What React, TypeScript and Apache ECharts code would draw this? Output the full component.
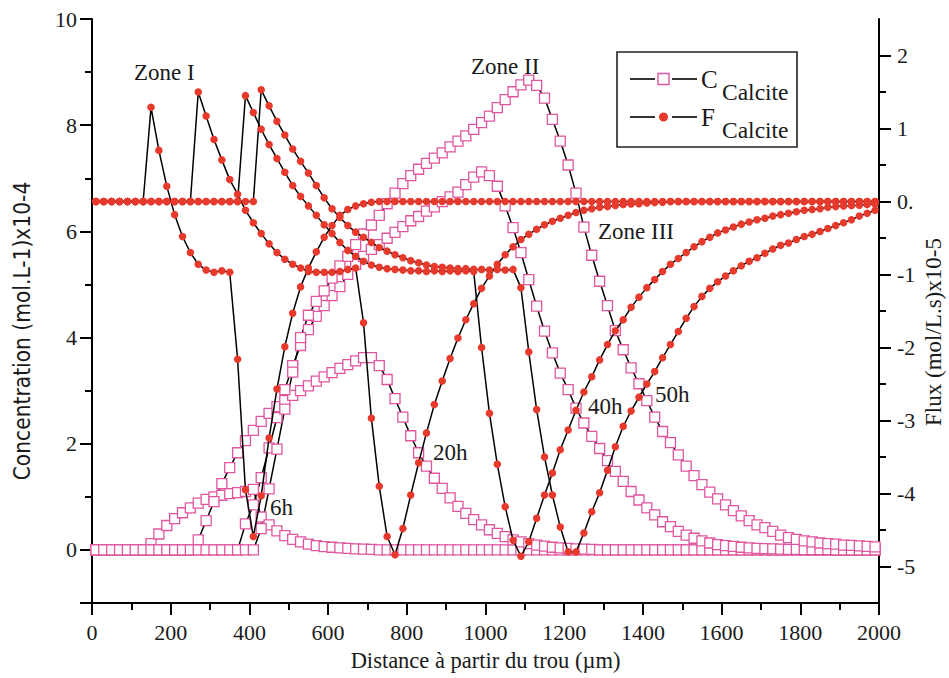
import React, { useEffect, useRef } from 'react';
import * as echarts from 'echarts';

// Sampling grid (µm)
const distance = [
  10, 30, 50, 70, 90, 110, 130, 150, 170, 190,
  210, 230, 250, 270, 290, 310, 330, 350, 370, 390,
  410, 430, 450, 470, 490, 510, 530, 550, 570, 590,
  610, 630, 650, 670, 690, 710, 730, 750, 770, 790,
  810, 830, 850, 870, 890, 910, 930, 950, 970, 990,
  1010, 1030, 1050, 1070, 1090, 1110, 1130, 1150, 1170, 1190,
  1210, 1230, 1250, 1270, 1290, 1310, 1330, 1350, 1370, 1390,
  1410, 1430, 1450, 1470, 1490, 1510, 1530, 1550, 1570, 1590,
  1610, 1630, 1650, 1670, 1690, 1710, 1730, 1750, 1770, 1790,
  1810, 1830, 1850, 1870, 1890, 1910, 1930, 1950, 1970, 1990,
];

// Concentration C_Calcite (x10-4 mol/L)
const cCalcite6h = [
  0, 0, 0, 0, 0, 0, 0, 0.12, 0.30, 0.46,
  0.59, 0.70, 0.79, 0.88, 0.95, 1.00, 1.03, 1.06, 1.08, 1.10,
  1.14, 0.62, 0.47, 0.36, 0.27, 0.20, 0.15, 0.11, 0.08, 0.06,
  0.05, 0.04, 0.03, 0.02, 0.015, 0.01, 0, 0, 0, 0,
  0, 0, 0, 0, 0, 0, 0, 0, 0, 0,
  0, 0, 0, 0, 0, 0, 0, 0, 0, 0,
  0, 0, 0, 0, 0, 0, 0, 0, 0, 0,
  0, 0, 0, 0, 0, 0, 0, 0, 0, 0,
  0, 0, 0, 0, 0, 0, 0, 0, 0, 0,
  0, 0, 0, 0, 0, 0, 0, 0, 0, 0,
];
const cCalcite20h = [
  0, 0, 0, 0, 0, 0, 0, 0, 0, 0,
  0, 0, 0, 0.19, 0.55, 0.91, 1.25, 1.55, 1.83, 2.06,
  2.25, 2.42, 2.57, 2.70, 2.81, 2.91, 3.00, 3.09, 3.18, 3.26,
  3.34, 3.42, 3.49, 3.56, 3.62, 3.62, 3.47, 3.21, 2.85, 2.50,
  2.15, 1.83, 1.58, 1.35, 1.16, 0.98, 0.82, 0.69, 0.57, 0.47,
  0.38, 0.31, 0.25, 0.19, 0.15, 0.12, 0.09, 0.07, 0.05, 0.04,
  0.03, 0.02, 0.015, 0.01, 0, 0, 0, 0, 0, 0,
  0, 0, 0, 0, 0, 0, 0, 0, 0, 0,
  0, 0, 0, 0, 0, 0, 0, 0, 0, 0,
  0, 0, 0, 0, 0, 0, 0, 0, 0, 0,
];
const cCalcite40h = [
  0, 0, 0, 0, 0, 0, 0, 0, 0, 0,
  0, 0, 0, 0, 0, 0, 0, 0, 0, 0.49,
  0.85, 1.36, 1.92, 2.49, 3.02, 3.47, 3.85, 4.15, 4.40, 4.60,
  4.79, 4.96, 5.19, 5.38, 5.53, 5.66, 5.75, 5.87, 5.98, 6.09,
  6.20, 6.28, 6.38, 6.46, 6.56, 6.65, 6.74, 6.88, 7.02, 7.12,
  7.05, 6.85, 6.48, 6.07, 5.60, 5.09, 4.59, 4.12, 3.71, 3.33,
  3.02, 2.67, 2.39, 2.14, 1.91, 1.68, 1.48, 1.29, 1.10, 0.94,
  0.79, 0.66, 0.53, 0.44, 0.35, 0.28, 0.22, 0.17, 0.13, 0.10,
  0.08, 0.065, 0.05, 0.04, 0.03, 0.025, 0.02, 0.015, 0.01, 0.01,
  0.005, 0.005, 0.005, 0.005, 0, 0, 0, 0, 0, 0,
];
const cCalcite50h = [
  0, 0, 0, 0, 0, 0, 0, 0, 0, 0,
  0, 0, 0, 0, 0, 0, 0, 0, 0, 0,
  0, 0.40, 1.15, 1.90, 2.65, 3.35, 4.00, 4.42, 4.68, 4.88,
  5.12, 5.35, 5.53, 5.75, 5.95, 6.12, 6.30, 6.52, 6.72, 6.90,
  7.05, 7.17, 7.28, 7.38, 7.48, 7.59, 7.70, 7.80, 7.92, 8.05,
  8.17, 8.33, 8.48, 8.63, 8.76, 8.85, 8.75, 8.51, 8.11, 7.70,
  7.25, 6.72, 6.08, 5.55, 5.06, 4.60, 4.13, 3.77, 3.43, 3.13,
  2.81, 2.50, 2.23, 2.02, 1.79, 1.58, 1.40, 1.23, 1.09, 0.96,
  0.85, 0.74, 0.64, 0.55, 0.47, 0.42, 0.35, 0.28, 0.23, 0.20,
  0.17, 0.15, 0.13, 0.12, 0.11, 0.09, 0.085, 0.075, 0.066, 0.057,
];

// Flux F_Calcite (x10-5 mol/L.s)
const fCalcite6h = [
  0, 0, 0, 0, 0, 0, 0, 1.29, 0.70, 0.21,
  -0.18, -0.48, -0.70, -0.86, -0.94, -0.97, -0.95, -0.97, -2.16, -3.95,
  -4.59, -4.03, -3.24, -2.57, -1.99, -1.53, -1.17, -0.91, -0.69, -0.49,
  -0.33, -0.19, -0.11, -0.06, -0.03, -0.01, 0, 0, 0, 0,
  0, 0, 0, 0, 0, 0, 0, 0, 0, 0,
  0, 0, 0, 0, 0, 0, 0, 0, 0, 0,
  0, 0, 0, 0, 0, 0, 0, 0, 0, 0,
  0, 0, 0, 0, 0, 0, 0, 0, 0, 0,
  0, 0, 0, 0, 0, 0, 0, 0, 0, 0,
  0, 0, 0, 0, 0, 0, 0, 0, 0, 0,
];
const fCalcite20h = [
  0, 0, 0, 0, 0, 0, 0, 0, 0, 0,
  0, 0, 0, 1.50, 1.17, 0.85, 0.57, 0.30, 0.10, -0.12,
  -0.29, -0.44, -0.58, -0.70, -0.79, -0.86, -0.91, -0.96, -0.97, -0.97,
  -0.97, -0.96, -0.93, -0.91, -1.66, -2.97, -3.90, -4.59, -4.84, -4.48,
  -4.02, -3.58, -3.17, -2.78, -2.46, -2.15, -1.87, -1.62, -1.40, -1.19,
  -1.02, -0.86, -0.73, -0.62, -0.52, -0.45, -0.38, -0.32, -0.27, -0.23,
  -0.19, -0.15, -0.12, -0.10, -0.08, -0.07, -0.055, -0.04, -0.035, -0.03,
  -0.02, -0.015, -0.01, 0, 0, 0, 0, 0, 0, 0,
  0, 0, 0, 0, 0, 0, 0, 0, 0, 0,
  0, 0, 0, 0, 0, 0, 0, 0, 0, 0,
];
const fCalcite40h = [
  0, 0, 0, 0, 0, 0, 0, 0, 0, 0,
  0, 0, 0, 0, 0, 0, 0, 0, 0, 1.45,
  1.22, 0.99, 0.78, 0.59, 0.40, 0.22, 0.07, -0.06, -0.19, -0.32,
  -0.44, -0.56, -0.67, -0.75, -0.82, -0.87, -0.90, -0.92, -0.93, -0.94,
  -0.95, -0.95, -0.96, -0.95, -0.96, -0.95, -0.96, -0.95, -0.96, -2.00,
  -2.90, -3.60, -4.18, -4.64, -4.86, -4.66, -4.34, -4.02, -3.72, -3.40,
  -3.13, -2.86, -2.61, -2.40, -2.17, -1.96, -1.77, -1.62, -1.45, -1.31,
  -1.18, -1.07, -0.96, -0.86, -0.78, -0.70, -0.62, -0.55, -0.49, -0.43,
  -0.39, -0.35, -0.31, -0.28, -0.25, -0.23, -0.20, -0.18, -0.16, -0.14,
  -0.12, -0.11, -0.10, -0.08, -0.07, -0.06, -0.055, -0.05, -0.04, -0.035,
];
const fCalcite50h = [
  0, 0, 0, 0, 0, 0, 0, 0, 0, 0,
  0, 0, 0, 0, 0, 0, 0, 0, 0, 0,
  0, 1.53, 1.31, 1.10, 0.91, 0.72, 0.55, 0.39, 0.22, 0.05,
  -0.10, -0.22, -0.33, -0.42, -0.49, -0.56, -0.63, -0.68, -0.73, -0.77,
  -0.81, -0.84, -0.87, -0.89, -0.90, -0.91, -0.92, -0.92, -0.93, -0.93,
  -0.94, -0.93, -0.94, -0.93, -1.18, -2.06, -2.85, -3.50, -4.02, -4.46,
  -4.80, -4.80, -4.54, -4.25, -3.99, -3.68, -3.36, -3.08, -2.87, -2.68,
  -2.50, -2.33, -2.14, -1.96, -1.78, -1.60, -1.44, -1.30, -1.19, -1.10,
  -1.02, -0.95, -0.88, -0.82, -0.77, -0.71, -0.65, -0.60, -0.57, -0.52,
  -0.48, -0.45, -0.41, -0.37, -0.33, -0.29, -0.25, -0.20, -0.16, -0.12,
];

// Axis ticks / labels
const leftMajorTicks = [-1, 0, 2, 4, 6, 8, 10];
const leftLabels = [0, 2, 4, 6, 8, 10];
const leftMinorTicks = [1, 3, 5, 7, 9];
const rightMajorTicks = [-5, -4, -3, -2, -1, 0, 1, 2];
const rightMinorTicks = [-4.5, -3.5, -2.5, -1.5, -0.5, 0.5, 1.5];

const concSeries = [
  { name: 'C 6h', values: cCalcite6h },
  { name: 'C 20h', values: cCalcite20h },
  { name: 'C 40h', values: cCalcite40h },
  { name: 'C 50h', values: cCalcite50h },
];
const fluxSeries = [
  { name: 'F 6h', values: fCalcite6h },
  { name: 'F 20h', values: fCalcite20h },
  { name: 'F 40h', values: fCalcite40h },
  { name: 'F 50h', values: fCalcite50h },
];

const annotations = [
  { text: 'Zone I', x: 134, y: 72 },
  { text: 'Zone II', x: 471, y: 66 },
  { text: 'Zone III', x: 598, y: 231 },
  { text: '6h', x: 270, y: 507 },
  { text: '20h', x: 433, y: 452 },
  { text: '40h', x: 588, y: 406 },
  { text: '50h', x: 655, y: 394 },
];

const SERIF = '"Liberation Serif", "Times New Roman", Times, serif';
const NARROW = '"Liberation Sans Narrow", "Arial Narrow", "DejaVu Sans Condensed", "Liberation Sans", Arial, sans-serif';
const PINK = '#E0569E';
const RED = '#E8392D';
const INK = '#1a1a1a';

export default function App() {
  const ref = useRef<HTMLDivElement>(null);

  useEffect(() => {
    if (!ref.current) return;
    const chart = echarts.init(ref.current, null, { renderer: 'svg' });

    const axisLineStyle = { color: '#000', width: 2 };
    const labelStyle = { fontFamily: SERIF, fontSize: 22, color: INK };

    const series: any[] = [];
    concSeries.forEach((s) => {
      series.push({
        type: 'line',
        name: s.name,
        xAxisIndex: 0,
        yAxisIndex: 0,
        data: distance.map((x, i) => [x, s.values[i]]),
        symbol: 'rect',
        symbolSize: 10,
        lineStyle: { color: '#000', width: 1.5 },
        itemStyle: { color: '#ffffff', borderColor: PINK, borderWidth: 1.3 },
        silent: true,
        z: 2,
      });
    });
    fluxSeries.forEach((s) => {
      series.push({
        type: 'line',
        name: s.name,
        xAxisIndex: 0,
        yAxisIndex: 2,
        data: distance.map((x, i) => [x, s.values[i]]),
        symbol: 'circle',
        symbolSize: 7.5,
        lineStyle: { color: '#000', width: 1.5 },
        itemStyle: { color: RED },
        silent: true,
        z: 3,
      });
    });

    const graphic: any[] = [];
    annotations.forEach((a) => {
      graphic.push({
        type: 'text',
        x: a.x,
        y: a.y,
        silent: true,
        style: {
          text: a.text,
          fontFamily: SERIF,
          fontSize: 23,
          fill: INK,
          align: 'left',
          verticalAlign: 'middle',
        },
      });
    });

    // Vertical axis titles
    graphic.push({
      type: 'text',
      x: 22,
      y: 331,
      rotation: Math.PI / 2,
      silent: true,
      style: {
        text: 'Concentration (mol.L-1)x10-4',
        fontFamily: NARROW,
        fontSize: 22.5,
        fill: INK,
        align: 'center',
        verticalAlign: 'middle',
      },
    });
    graphic.push({
      type: 'text',
      x: 933,
      y: 332,
      rotation: Math.PI / 2,
      silent: true,
      style: {
        text: 'Flux (mol/L.s)x10-5',
        fontFamily: SERIF,
        fontSize: 23,
        fill: INK,
        align: 'center',
        verticalAlign: 'middle',
      },
    });

    // Legend box
    graphic.push({
      type: 'rect',
      shape: { x: 617, y: 52, width: 180, height: 95 },
      style: { fill: '#ffffff', stroke: '#222', lineWidth: 1.6 },
      z: 10,
    });
    const rows = [
      { y: 79, label: 'C', subY: 92, kind: 'rect' },
      { y: 117, label: 'F', subY: 130, kind: 'dot' },
    ];
    rows.forEach((r) => {
      graphic.push({
        type: 'line',
        shape: { x1: 630, y1: r.y, x2: 655, y2: r.y },
        style: { stroke: '#000', lineWidth: 1.6 },
        z: 11,
      });
      graphic.push({
        type: 'line',
        shape: { x1: 672, y1: r.y, x2: 697, y2: r.y },
        style: { stroke: '#000', lineWidth: 1.6 },
        z: 11,
      });
      if (r.kind === 'rect') {
        graphic.push({
          type: 'rect',
          shape: { x: 658, y: r.y - 5.5, width: 11, height: 11 },
          style: { fill: '#fff', stroke: PINK, lineWidth: 1.4 },
          z: 11,
        });
      } else {
        graphic.push({
          type: 'circle',
          shape: { cx: 663.5, cy: r.y, r: 4.5 },
          style: { fill: RED },
          z: 11,
        });
      }
      graphic.push({
        type: 'text',
        x: 701,
        y: r.y,
        z: 11,
        style: { text: r.label, fontFamily: SERIF, fontSize: 25, fill: INK, align: 'left', verticalAlign: 'middle' },
      });
      graphic.push({
        type: 'text',
        x: 722,
        y: r.subY,
        z: 11,
        style: { text: 'Calcite', fontFamily: SERIF, fontSize: 23.5, fill: INK, align: 'left', verticalAlign: 'middle' },
      });
    });

    const option: any = {
      animation: false,
      backgroundColor: '#ffffff',
      grid: { left: 92, top: 19, width: 787, height: 584, containLabel: false, outerBoundsMode: 'none' },
      xAxis: {
        type: 'value',
        min: 0,
        max: 2000,
        interval: 200,
        axisLine: { show: true, onZero: false, lineStyle: axisLineStyle },
        axisTick: { show: true, length: 12, lineStyle: { color: '#000', width: 2 } },
        minorTick: { show: true, splitNumber: 2, length: 7, lineStyle: { color: '#000', width: 2 } },
        axisLabel: { ...labelStyle, margin: 18, formatter: (v: number) => String(v) },
        splitLine: { show: false },
        name: 'Distance à partir du trou (µm)',
        nameLocation: 'middle',
        nameGap: 46,
        nameMoveOverlap: false,
        nameTextStyle: { fontFamily: SERIF, fontSize: 22.5, color: INK },
      },
      yAxis: [
        {
          type: 'value',
          position: 'left',
          min: -1,
          max: 10,
          axisLine: { show: true, onZero: false, lineStyle: axisLineStyle },
          axisTick: { show: true, customValues: leftMajorTicks, length: 12, lineStyle: { color: '#000', width: 2 } },
          axisLabel: { ...labelStyle, customValues: leftLabels, margin: 15, formatter: (v: number) => String(v) },
          splitLine: { show: false },
        },
        {
          type: 'value',
          position: 'left',
          min: -1,
          max: 10,
          axisLine: { show: false },
          axisTick: { show: true, customValues: leftMinorTicks, length: 7, lineStyle: { color: '#000', width: 2 } },
          axisLabel: { show: false },
          splitLine: { show: false },
        },
        {
          type: 'value',
          position: 'right',
          min: -5.5,
          max: 2.5,
          axisLine: { show: true, onZero: false, lineStyle: axisLineStyle },
          axisTick: { show: true, customValues: rightMajorTicks, length: 12, lineStyle: { color: '#000', width: 2 } },
          axisLabel: {
            ...labelStyle,
            customValues: rightMajorTicks,
            margin: 18,
            formatter: (v: number) => (v === 0 ? '0.' : String(v)),
          },
          splitLine: { show: false },
        },
        {
          type: 'value',
          position: 'right',
          min: -5.5,
          max: 2.5,
          axisLine: { show: false },
          axisTick: { show: true, customValues: rightMinorTicks, length: 7, lineStyle: { color: '#000', width: 2 } },
          axisLabel: { show: false },
          splitLine: { show: false },
        },
      ],
      series,
      graphic,
    };

    chart.setOption(option);
    return () => chart.dispose();
  }, []);

  return (
    <div
      ref={ref}
      style={{ position: 'fixed', left: 0, top: 0, width: 949, height: 678, background: '#fff' }}
    />
  );
}
